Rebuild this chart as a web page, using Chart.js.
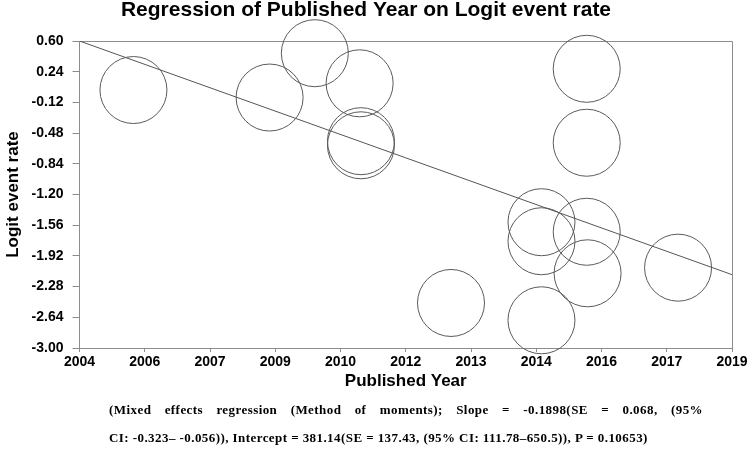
<!DOCTYPE html>
<html>
<head>
<meta charset="utf-8">
<script src="https://cdn.jsdelivr.net/npm/chart.js@4/dist/chart.umd.min.js"></script>
<style>
  html, body { margin: 0; padding: 0; background: #fff; }
  #wrap { position: relative; width: 750px; height: 451px; overflow: hidden; }
  canvas { position: absolute; left: 0; top: 0; }
  .note { position: absolute; left: 109px; width: 594px; font-family: "Liberation Serif", "Times New Roman", serif; font-weight: bold; font-size: 13px; letter-spacing: 0.43px; line-height: 28px; color: #000; white-space: nowrap; }
  #note1 { top: 396px; text-align: justify; text-align-last: justify; white-space: normal; }
  #note2 { top: 424px; }
</style>
</head>
<body>
<div id="wrap">
  <canvas id="c" width="750" height="451"></canvas>
  <div class="note" id="note1">(Mixed effects regression (Method of moments); Slope = -0.1898(SE = 0.068, (95%</div>
  <div class="note" id="note2">CI: -0.323– -0.056)), Intercept = 381.14(SE = 137.43, (95% CI: 111.78–650.5)), P = 0.10653)</div>
</div>
<script>
// ---- data ----
const studyYears = [2005.24, 2008.37, 2009.41, 2010.44, 2010.47, 2010.47, 2012.54, 2014.62, 2014.62, 2014.62, 2015.66, 2015.66, 2015.66, 2015.68, 2017.76];
const logitRates = [0.025, -0.063, 0.457, 0.104, -0.575, -0.623, -2.472, -1.525, -1.748, -2.675, 0.274, -0.593, -1.637, -2.124, -2.058];
const regLineYears = [2004, 2019];
const regLineValues = [0.60, -2.14];
const xTickValues = [2004, 2005.5, 2007, 2008.5, 2010, 2011.5, 2013, 2014.5, 2016, 2017.5, 2019];
const xTickLabels = ['2004', '2006', '2007', '2009', '2010', '2012', '2013', '2014', '2016', '2017', '2019'];
const yTickValues = [0.60, 0.24, -0.12, -0.48, -0.84, -1.20, -1.56, -1.92, -2.28, -2.64, -3.00];
const yTickLabels = ['0.60', '0.24', '-0.12', '-0.48', '-0.84', '-1.20', '-1.56', '-1.92', '-2.28', '-2.64', '-3.00'];

const studyPoints = studyYears.map((x, i) => ({ x: x, y: logitRates[i] }));
const linePoints = regLineYears.map((x, i) => ({ x: x, y: regLineValues[i] }));

const FONT = '"Liberation Sans", Arial, sans-serif';
const AXIS_COLOR = '#8c8c8c';

const frame = {
  id: 'frame',
  beforeDatasetsDraw(chart) {
    const { ctx, chartArea: a } = chart;
    ctx.save();
    ctx.strokeStyle = AXIS_COLOR;
    ctx.lineWidth = 1;
    ctx.beginPath();
    ctx.moveTo(a.left, a.top + 0.5);
    ctx.lineTo(a.right + 0.5, a.top + 0.5);
    ctx.lineTo(a.right + 0.5, a.bottom);
    ctx.stroke();
    ctx.restore();
  }
};

new Chart(document.getElementById('c'), {
  type: 'scatter',
  data: {
    datasets: [
      {
        label: 'Studies',
        data: studyPoints,
        pointRadius: 33.5,
        pointHoverRadius: 33.5,
        pointStyle: 'circle',
        backgroundColor: 'rgba(0,0,0,0)',
        borderColor: '#5a5a5a',
        borderWidth: 1,
        clip: false
      },
      {
        type: 'line',
        label: 'Regression',
        data: linePoints,
        borderColor: '#555555',
        borderWidth: 1,
        pointRadius: 0,
        fill: false,
        tension: 0
      }
    ]
  },
  options: {
    responsive: false,
    devicePixelRatio: 1,
    animation: false,
    events: [],
    layout: { autoPadding: false, padding: { left: 0, right: 18, top: 0, bottom: 56 } },
    plugins: {
      legend: { display: false },
      tooltip: { enabled: false },
      title: {
        display: true,
        text: 'Regression of Published Year on Logit event rate',
        color: '#000',
        font: { family: FONT, size: 21, weight: 'bold', lineHeight: 1 },
        padding: { top: 0, bottom: 20 }
      }
    },
    scales: {
      x: {
        type: 'linear',
        min: 2004,
        max: 2019,
        afterBuildTicks: (scale) => { scale.ticks = xTickValues.map(v => ({ value: v })); },
        afterFit: (scale) => { scale.height = 47; scale.paddingLeft = 0; scale.paddingRight = 0; },
        ticks: {
          autoSkip: false,
          maxRotation: 0,
          padding: 2,
          color: '#000',
          font: { family: FONT, size: 14, weight: 'bold' },
          callback: (value, index) => xTickLabels[index]
        },
        grid: { drawOnChartArea: false, tickLength: 4, color: AXIS_COLOR },
        border: { color: AXIS_COLOR },
        title: {
          display: true,
          text: 'Published Year',
          color: '#000',
          font: { family: FONT, size: 17, weight: 'bold' },
          padding: { top: 0, bottom: 3 }
        }
      },
      y: {
        type: 'linear',
        min: -3.0,
        max: 0.6,
        afterBuildTicks: (scale) => { scale.ticks = yTickValues.map(v => ({ value: v })); },
        afterFit: (scale) => { scale.width = 79.5; },
        ticks: {
          autoSkip: false,
          padding: 9,
          color: '#000',
          font: { family: FONT, size: 14, weight: 'bold' },
          callback: (value, index) => yTickLabels[index]
        },
        grid: { drawOnChartArea: false, tickLength: 7, color: AXIS_COLOR },
        border: { color: AXIS_COLOR },
        title: {
          display: true,
          text: 'Logit event rate',
          color: '#000',
          font: { family: FONT, size: 17, weight: 'bold' },
          padding: { top: 3, bottom: 0 }
        }
      }
    }
  },
  plugins: [frame]
});
</script>
</body>
</html>
